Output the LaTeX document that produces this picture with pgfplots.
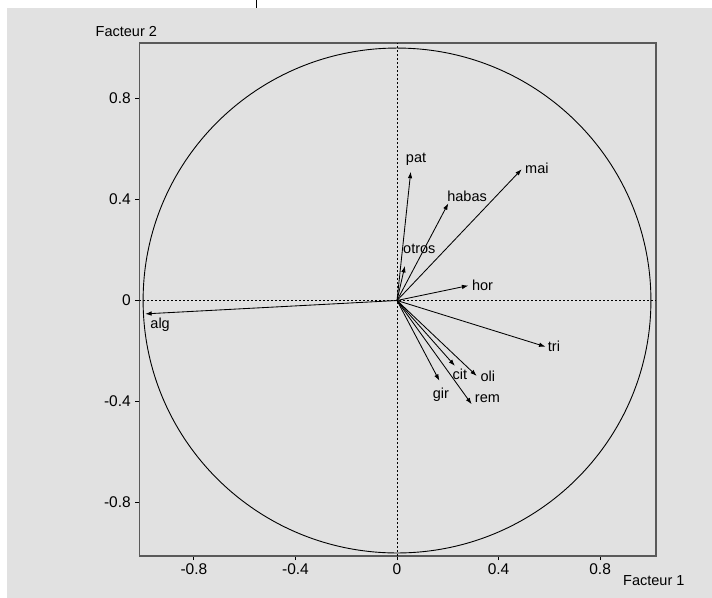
\documentclass[border=0pt]{standalone}
\usepackage{fontspec}
\setmainfont{Liberation Sans}
\usepackage{pgfplots}
\pgfplotsset{compat=1.18}
\usetikzlibrary{arrows.meta}
\definecolor{bg}{HTML}{E1E1E1}
\begin{document}
\begin{tikzpicture}[font=\fontsize{14.5bp}{17bp}\selectfont]
\path[use as bounding box] (-139.3bp,-42bp) rectangle (572.7bp,556bp);
\fill[bg] (-132.3bp,-42bp) rectangle (572.7bp,548bp);
\draw[black, line width=1bp] (116.7bp,548bp) -- (116.7bp,556bp);
\begin{axis}[
  at={(0,0)}, anchor=south west,
  scale only axis, width=516.7bp, height=513bp,
  xmin=-1.015, xmax=1.02, ymin=-1.012, ymax=1.02,
  axis line style={draw=black!65, line width=1.1bp},
  xtick={-0.8,-0.4,0,0.4,0.8}, xticklabels={-0.8,-0.4,0,0.4,0.8},
  ytick={-0.8,-0.4,0,0.4,0.8}, yticklabels={-0.8,-0.4,0,0.4,0.8},
  xtick pos=bottom, ytick pos=left,
  tick align=outside, major tick length=4bp,
  tick style={black, line width=0.8bp},
  tick label style={font=\fontsize{15.5bp}{18bp}\selectfont},
  yticklabel style={xshift=-1bp},
]
\addplot[black, line width=0.7bp, dash pattern=on 2bp off 2bp] coordinates {(0,-1.012) (0,1.02)};
\addplot[black, line width=0.7bp, dash pattern=on 2bp off 2bp] coordinates {(-1.015,0) (1.02,0)};
\draw[black, line width=0.9bp] (axis cs:0,0) ellipse [x radius=1, y radius=1];
\pgfplotsset{vec/.style={black, line width=0.85bp, -{Latex[length=6.5bp,width=4.5bp]}}}
\addplot[vec] coordinates {(0,0) (0.054,0.510)};
\addplot[vec] coordinates {(0,0) (0.202,0.385)};
\addplot[vec] coordinates {(0,0) (0.491,0.520)};
\addplot[vec] coordinates {(0,0) (0.031,0.137)};
\addplot[vec] coordinates {(0,0) (0.281,0.059)};
\addplot[vec] coordinates {(0,0) (-0.992,-0.053)};
\addplot[vec] coordinates {(0,0) (0.585,-0.183)};
\addplot[vec] coordinates {(0,0) (0.228,-0.259)};
\addplot[vec] coordinates {(0,0) (0.314,-0.299)};
\addplot[vec] coordinates {(0,0) (0.167,-0.318)};
\addplot[vec] coordinates {(0,0) (0.294,-0.411)};
\node[inner sep=0] at (axis cs:0.075,0.560) {pat};
\node[inner sep=0] at (axis cs:0.276,0.414) {habas};
\node[inner sep=0] at (axis cs:0.551,0.522) {mai};
\node[inner sep=0] at (axis cs:0.088,0.204) {otros};
\node[inner sep=0] at (axis cs:0.337,0.061) {hor};
\node[inner sep=0] at (axis cs:-0.933,-0.097) {alg};
\node[inner sep=0] at (axis cs:0.618,-0.180) {tri};
\node[inner sep=0] at (axis cs:0.248,-0.291) {cit};
\node[inner sep=0] at (axis cs:0.358,-0.302) {oli};
\node[inner sep=0] at (axis cs:0.173,-0.374) {gir};
\node[inner sep=0] at (axis cs:0.356,-0.390) {rem};
\end{axis}
\node[anchor=west, inner sep=0] at (-43.8bp,524.3bp) {Facteur 2};
\node[anchor=west, inner sep=0] at (483.7bp,-25bp) {Facteur 1};
\end{tikzpicture}
\end{document}
